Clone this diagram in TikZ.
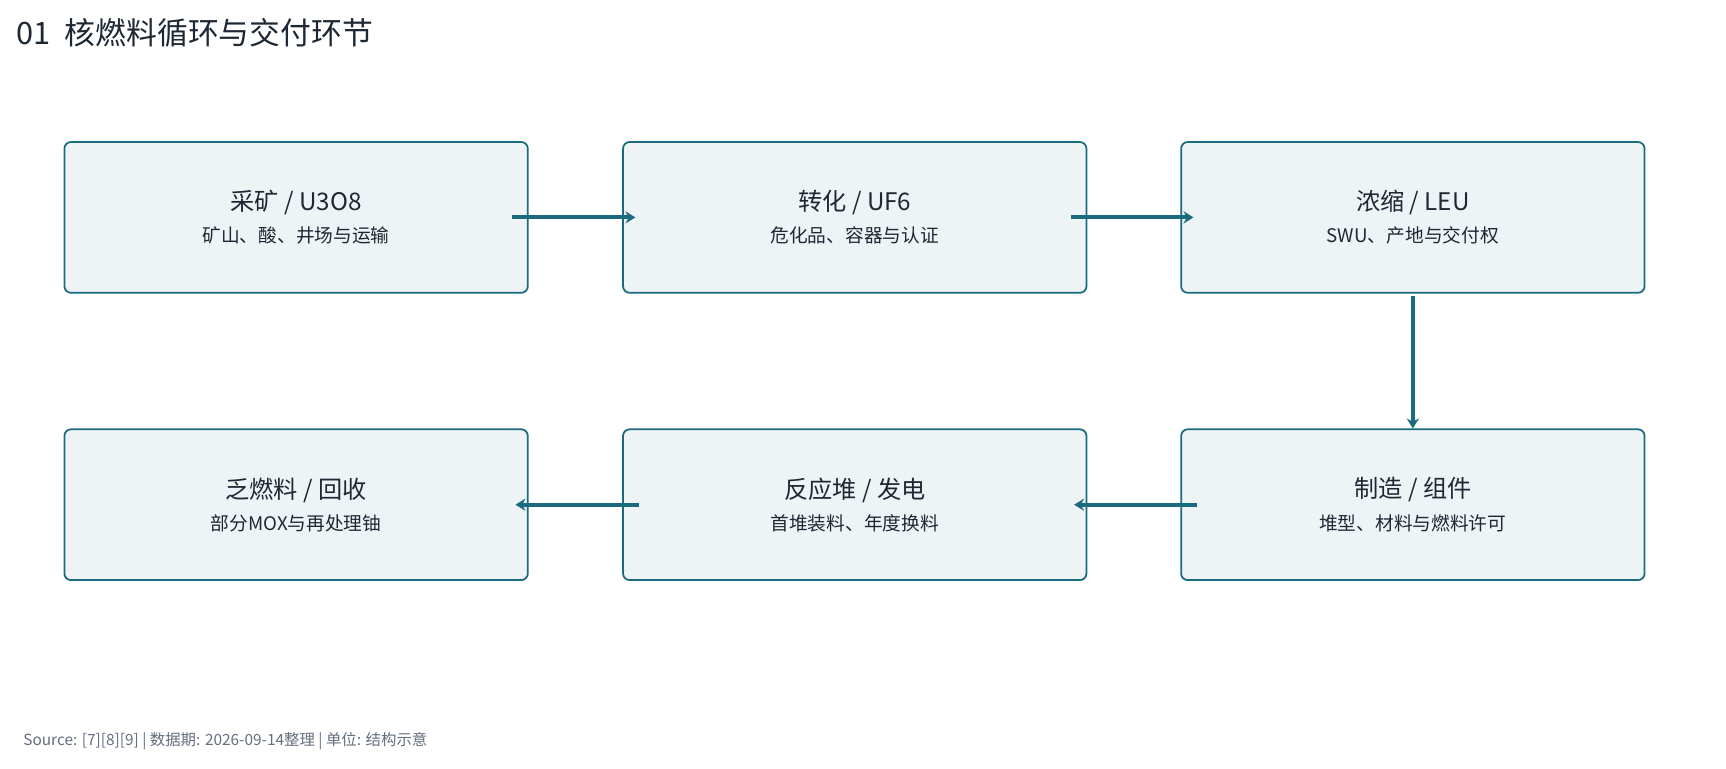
\documentclass[tikz,border=0pt]{standalone}
\usepackage{fontspec}
\setmainfont{Noto Sans CJK SC}
\usetikzlibrary{arrows.meta,positioning}
\definecolor{teal}{RGB}{26,106,128}
\definecolor{boxfill}{RGB}{238,244,246}
\definecolor{ink}{RGB}{30,40,52}
\definecolor{foot}{RGB}{100,110,125}
\tikzset{
  stage/.style={draw=teal,fill=boxfill,line width=1.6pt,rounded corners=6pt,
    minimum width=421pt,minimum height=137pt,inner sep=0pt},
  flow/.style={draw=teal,line width=3.5pt,-{Stealth[length=9pt,width=11pt]}}
}
\newcommand{\stagetext}[2]{\fontsize{22}{26}\selectfont #1\\[10pt]\fontsize{17}{20}\selectfont #2}

\begin{document}
\begin{tikzpicture}[x=1pt,y=-1pt,text=ink]
\useasboundingbox (0,0) rectangle (1568,698);

% title and footer
\node[anchor=west,inner sep=0pt,font=\fontsize{28}{32}\selectfont] (title) at (15,30) {01\ \ 核燃料循环与交付环节};
\node[anchor=west,inner sep=0pt,text=foot,font=\fontsize{14}{16}\selectfont] (src) at (21,673) {Source: [7][8][9] | 数据期: 2026-09-14整理 | 单位: 结构示意};

% stages
\node[stage,align=center] (mine) at (269,197.5) {\stagetext{采矿 / U3O8}{矿山、酸、井场与运输}};
\node[stage,align=center] (conv) at (776.5,197.5) {\stagetext{转化 / UF6}{危化品、容器与认证}};
\node[stage,align=center] (enr) at (1283.5,197.5) {\stagetext{浓缩 / LEU}{SWU、产地与交付权}};
\node[stage,align=center] (fab) at (1283.5,458.5) {\stagetext{制造 / 组件}{堆型、材料与燃料许可}};
\node[stage,align=center] (reac) at (776.5,458.5) {\stagetext{反应堆 / 发电}{首堆装料、年度换料}};
\node[stage,align=center] (spent) at (269,458.5) {\stagetext{乏燃料 / 回收}{部分MOX与再处理铀}};

% flows
\draw[flow] ([xshift=-15pt]mine.east) -- ([xshift=12pt]conv.west);
\draw[flow] ([xshift=-15pt]conv.east) -- ([xshift=12pt]enr.west);
\draw[flow] ([yshift=-2pt]enr.south) -- (fab.north);
\draw[flow] ([xshift=15pt]fab.west) -- ([xshift=-12pt]reac.east);
\draw[flow] ([xshift=15pt]reac.west) -- ([xshift=-12pt]spent.east);
\end{tikzpicture}
\end{document}
